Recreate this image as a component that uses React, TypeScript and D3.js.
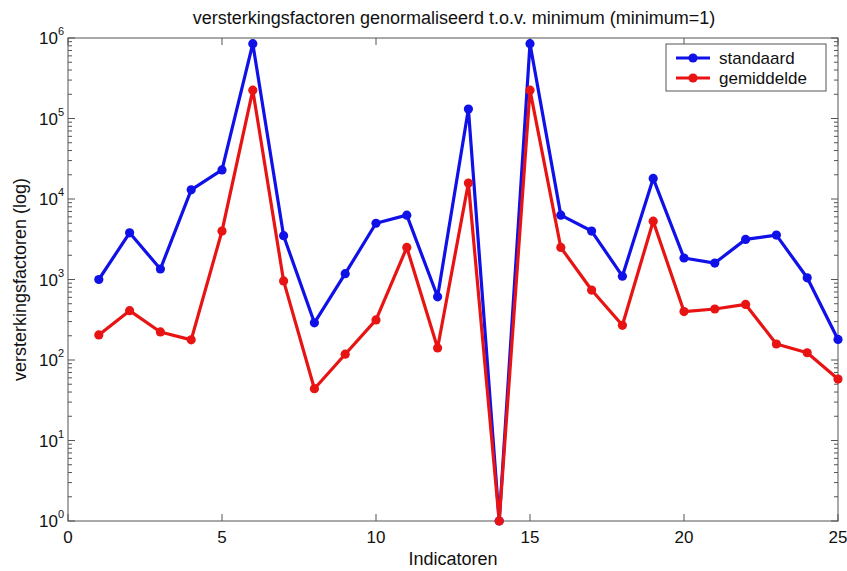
import React from "react";
import * as d3 from "d3";

const indicators = d3.range(1, 26);
const standaard = [1000, 3800, 1350, 13000, 23000, 850000, 3500, 290, 1180, 5000, 6300, 610, 131000, 1, 850000, 6300, 4000, 1100, 18000, 1850, 1600, 3150, 3560, 1050, 180];
const gemiddelde = [205, 410, 223, 178, 4000, 225000, 960, 44, 118, 315, 2500, 141, 15800, 1, 225000, 2500, 740, 270, 5300, 400, 430, 490, 158, 123, 58];
const xTicks = [0, 5, 10, 15, 20, 25];
const yExponents = [0, 1, 2, 3, 4, 5, 6];

const W = 847;
const H = 571;
const M = { left: 68, right: 838, top: 38, bottom: 521 };
const FONT = "'Liberation Sans', Arial, sans-serif";

const series = [
  { name: "standaard", values: standaard, color: "#1010e8" },
  { name: "gemiddelde", values: gemiddelde, color: "#e81414" },
];

export default function App() {
  const x = d3.scaleLinear().domain([0, 25]).range([M.left, M.right]);
  const y = d3.scaleLog().domain([1, 1e6]).range([M.bottom, M.top]);
  const line = d3
    .line<number>()
    .x((_, i) => x(indicators[i]))
    .y((v) => y(v));

  const minor: number[] = [];
  for (let e = 0; e < 6; e++) for (let k = 2; k <= 9; k++) minor.push(k * Math.pow(10, e));

  const axisColor = "#555";
  return (
    <svg width={W} height={H} style={{ position: "absolute", left: 0, top: 0, background: "#fff" }}>
      <rect x={0} y={0} width={W} height={H} fill="#fff" />
      {/* frame */}
      <rect x={M.left} y={M.top} width={M.right - M.left} height={M.bottom - M.top} fill="none" stroke={axisColor} strokeWidth={1} />
      {/* x ticks */}
      {xTicks.map((t) => (
        <g key={"xt" + t}>
          <line x1={x(t)} x2={x(t)} y1={M.bottom} y2={M.bottom - 7} stroke={axisColor} />
          <line x1={x(t)} x2={x(t)} y1={M.top} y2={M.top + 7} stroke={axisColor} />
          <text x={x(t)} y={M.bottom + 22} fontSize={17} fontFamily={FONT} textAnchor="middle" fill="#111">
            {t}
          </text>
        </g>
      ))}
      {/* y major ticks */}
      {yExponents.map((e) => (
        <g key={"yt" + e}>
          <line x1={M.left} x2={M.left + 7} y1={y(Math.pow(10, e))} y2={y(Math.pow(10, e))} stroke={axisColor} />
          <line x1={M.right} x2={M.right - 7} y1={y(Math.pow(10, e))} y2={y(Math.pow(10, e))} stroke={axisColor} />
          <text x={M.left - 4} y={y(Math.pow(10, e)) + 6} fontSize={17} fontFamily={FONT} textAnchor="end" fill="#111">
            10
            <tspan dx={0} dy={-9} fontSize={11}>
              {e}
            </tspan>
          </text>
        </g>
      ))}
      {/* y minor ticks */}
      {minor.map((v) => (
        <g key={"ym" + v}>
          <line x1={M.left} x2={M.left + 4} y1={y(v)} y2={y(v)} stroke={axisColor} />
          <line x1={M.right} x2={M.right - 4} y1={y(v)} y2={y(v)} stroke={axisColor} />
        </g>
      ))}
      {/* series */}
      {series.map((s) => (
        <g key={s.name}>
          <path d={line(s.values) || ""} fill="none" stroke={s.color} strokeWidth={3.2} strokeLinejoin="round" />
          {s.values.map((v, i) => (
            <circle key={i} cx={x(indicators[i])} cy={y(v)} r={4.6} fill={s.color} />
          ))}
        </g>
      ))}
      {/* title and axis labels */}
      <text x={(M.left + M.right) / 2 + 1} y={24} fontSize={18} fontFamily={FONT} textAnchor="middle" fill="#111">
        versterkingsfactoren genormaliseerd t.o.v. minimum (minimum=1)
      </text>
      <text x={(M.left + M.right) / 2} y={565} fontSize={18} fontFamily={FONT} textAnchor="middle" fill="#111">
        Indicatoren
      </text>
      <text
        transform={`translate(26, ${(M.top + M.bottom) / 2}) rotate(-90)`}
        fontSize={18}
        fontFamily={FONT}
        textAnchor="middle"
        fill="#111"
      >
        versterkingsfactoren (log)
      </text>
      {/* legend */}
      <g transform="translate(666, 44)">
        <rect x={0} y={0} width={160} height={47} fill="#fff" stroke={axisColor} />
        {series.map((s, i) => (
          <g key={s.name} transform={`translate(0, ${14 + i * 20})`}>
            <line x1={10} x2={44} y1={0} y2={0} stroke={s.color} strokeWidth={3.2} />
            <circle cx={27} cy={0} r={4.6} fill={s.color} />
            <text x={53} y={6} fontSize={17} fontFamily={FONT} fill="#111">
              {s.name}
            </text>
          </g>
        ))}
      </g>
    </svg>
  );
}
